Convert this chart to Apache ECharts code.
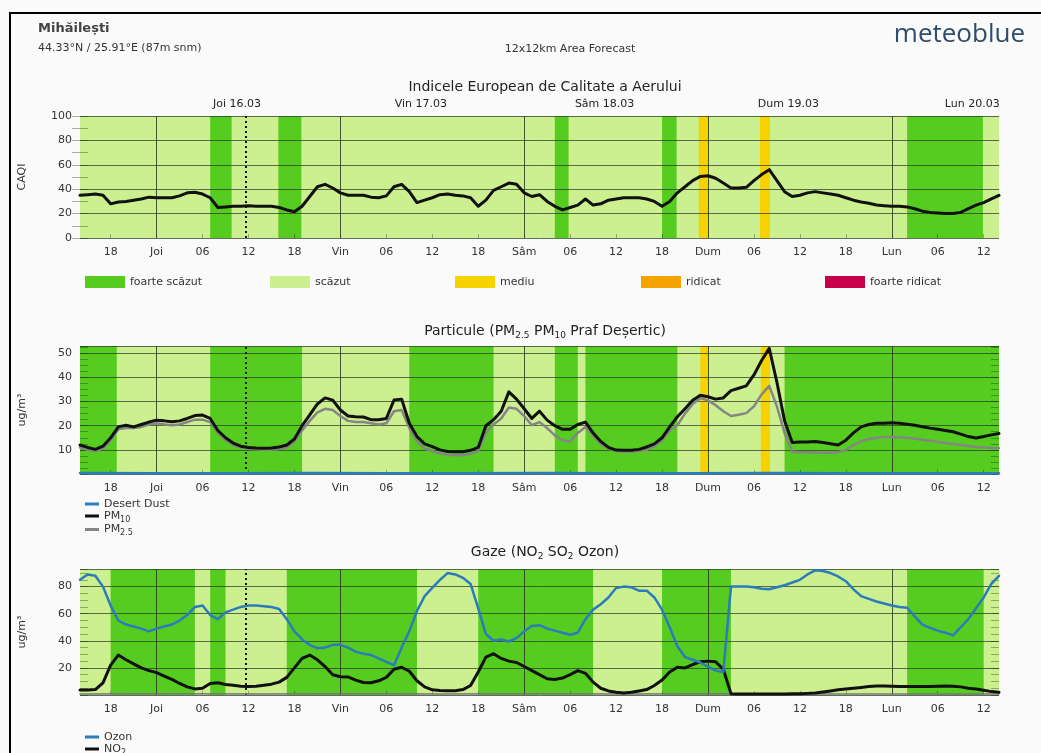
<!DOCTYPE html>
<html><head><meta charset="utf-8">
<script src="https://cdn.jsdelivr.net/npm/echarts@6/dist/echarts.min.js"></script>
<style>
html,body{margin:0;padding:0;background:#fafafa;width:1041px;height:753px;overflow:hidden;}
#frame{position:absolute;left:9px;top:12px;right:0;bottom:0;border-left:2px solid #000;border-top:2px solid #000;}
#chart{position:absolute;left:0;top:0;width:1041px;height:753px;}
</style></head><body>
<div id="frame"></div>
<div id="chart"></div>
<script>
// x = hours since Wed 15.03 14:00 (0..120)
const tickHours = [4,10,16,22,28,34,40,46,52,58,64,70,76,82,88,94,100,106,112,118];
const tickLabels = ['18','Joi','06','12','18','Vin','06','12','18','Sâm','06','12','18','Dum','06','12','18','Lun','06','12'];
const dayHours = [10,34,58,82,106];
const nowHour = 21.6;
const dateHours = [20.5,44.5,68.5,92.5,116.5];
const dateLabels = ['Joi 16.03','Vin 17.03','Sâm 18.03','Dum 19.03','Lun 20.03'];

// CAQI hourly
const caqi = [35,35.5,36,35,28,29.5,30,31,32,33.5,33,33,33,34.5,37,37.5,36,33,25,25.5,
26,26,26.5,26,26,26,25,23,21.5,26,34,42,44,41,37,35,35,35,33.5,33,
34.5,42,44,38,29,31,33,35.5,36,35,34.5,33,26,31,39,42,45,44,37,34,
35.5,30,26,23,25,27,32,27,28,31,32,33,33,33,32,30,26,30,37,42,
47,50.5,51,49,45,41,41,41.5,47,52,56,47,38,34,35,37,38,37,36,35,
33,31,29.5,28.5,27,26.5,26,26,25.5,24,22,21,20.5,20,20,21,24,27,29,32,35];

// PM hourly
const pm10 = [12,11,10.2,11.5,15,19.5,20.2,19.5,20.5,21.5,22.3,22,21.6,22,23,24.2,24.4,23,18,15,
12.8,11.5,11,10.8,10.7,10.8,11.2,12,14.5,20,24.5,29,31.5,30.6,26.5,24,23.7,23.6,22.5,22.5,
23,30.6,31,21,15.5,12.5,11.3,10,9.3,9.2,9.2,9.8,11,20,22.5,26,34,31,27,23,
26,22.3,20,18.5,18.5,20.5,21.5,17,13.5,11,9.9,9.8,9.8,10.2,11.2,12.5,15,19.5,23.7,27,
30.5,32.6,32,31,31.5,34.5,35.5,36.5,41,47,52,38,22,13,13.2,13.3,13.5,13,12.5,12,
14,17,19.5,20.5,21,21,21.2,21,20.6,20.2,19.6,19,18.5,18,17.5,16.5,15.5,14.9,15.5,16.2,16.8];
const pm25 = [11,10,9.5,10.5,14,18.5,19,19,19.5,20.5,21,20.5,20.2,20.5,21.5,22.5,22.5,21.5,17,14,
12,11,10.5,10.2,10,10,10.3,11,13.5,18,22,25.5,27,26.5,24,22,21.5,21.5,21,20.5,
21,26,26.5,19,13.5,10.5,9.5,8.5,8,7.8,7.8,8.3,9.5,17,20.5,23,27.5,27,24,20.2,
21.5,19,16,14,13.5,17,19.5,16,12.5,10.5,9.5,9.2,9.2,9.5,10,11.5,14,18,20.2,25,
29,31.4,30.5,28.5,26,24,24.5,25.2,28,33,36.5,28,17,9.2,9,9,8.9,8.8,8.8,9,
10,12,13.5,14.5,15,15.3,15.3,15.2,15,14.6,14.2,13.8,13.3,12.8,12.4,12,11.6,11.2,11,10.8,10.7];
const dust = [[0,0.4],[10,0.3],[20,0.3],[30,0.4],[40,0.3],[50,0.3],[60,0.4],[70,0.3],[80,0.3],[90,0.4],[100,0.3],[110,0.3],[120,0.3]];

// Gas hourly
const ozone = [85,89,88,80,66,55,52,50.5,49,47,49,50.5,52,55,59,65,66,59,56,61,
63,65,66,66,65.5,65,63.5,56,47,41,37,34.5,35,37,37,35,32,30.5,29.5,27,
24.5,22,35,47,62,73,79,85,90,89,86.5,82,64,45,40,41,39.5,42,47,51,
51.5,49,47.5,46,44.5,46,56,63,67,72,79,80,79.5,77,77,72,63,50,36,28,
26,24,21,18,17,80,80,80,79.5,78.5,78,79.5,81,83,85,89,92,91.5,90,87.5,
84,78,73,71,69,67.5,66,65,64.4,58,52,49.5,47.5,46,44,50,56,64,72,82,88];
const no2 = [3.7,3.7,4,9,22,29.5,26,23,20,18,16.5,14,11.5,8.5,6,4.5,5,8.5,9,7.8,
7.2,6.5,6.3,6.5,7.2,8,9.5,13,20,27,29.5,26,21,15,13.5,13.3,11,9.2,9,10.5,
13,19,20.5,17.5,10.5,6,3.8,3.3,3.2,3.2,4,7,17,28,30.5,27,25,24,21,18,
15,12,11.5,12.5,15,18,16,9.5,5,3,2,1.5,2,3,4,7,11,17,20.5,20,
22.5,24.5,25,24.5,19,1,0.8,0.8,0.7,0.7,0.7,0.8,0.8,0.9,1,1.2,1.5,2.2,3,3.8,
4.4,5,5.6,6.2,6.6,6.7,6.5,6.3,6.2,6.2,6.2,6.3,6.5,6.7,6.5,6,5,4.4,3.5,2.5,2];
const so2 = [[0,0.8],[12,0.9],[24,0.8],[36,1],[48,0.8],[60,0.9],[72,0.8],[84,0.9],[96,0.7],[108,0.8],[120,0.8]];

// colour bands [start, end, class]
const caqiBands = [[17,19.8,'d'],[25.9,28.9,'d'],[62,63.8,'d'],[76,77.9,'d'],[80.8,82.1,'y'],[88.8,90.1,'y'],[108,117.9,'d']];
const pmBands = [[0,4.8,'d'],[17,29,'d'],[43,54,'d'],[62,65,'d'],[66,78,'d'],[81,82.1,'y'],[88.9,90.1,'y'],[92,120,'d']];
const gasBands = [[4,15,'d'],[17,19,'d'],[27,44,'d'],[52,67,'d'],[76,85,'d'],[108,118,'d']];

const classNames = ['foarte scăzut','scăzut','mediu','ridicat','foarte ridicat'];
const C = {d:'#55cc1f', l:'#ccf090', y:'#f6d200', o:'#f5a300', r:'#c8004c'};
const classColors = [C.d, C.l, C.y, C.o, C.r];
const legendLefts = [80,265,450,636,820];

const FONT = 'DejaVu Sans';
const toPairs = a => a.map((v,i)=>[i,v]);
const bandArea = bands => ({
  silent: true, label:{show:false},
  data: bands.map(b => [{xAxis:b[0], itemStyle:{color:C[b[2]], opacity:1}}, {xAxis:b[1]}])
});
const dayLines = () => ({
  silent: true, symbol:['none','none'], label:{show:false},
  data: dayHours.map(h => ({xAxis:h, lineStyle:{color:'#2a3a20', width:1, type:'solid', opacity:0.85}}))
    .concat([{xAxis: nowHour, lineStyle:{color:'#111', width:2, type:[2,3], opacity:1}}])
});

const grids = [
  {left:80, top:116, width:919, height:122},
  {left:80, top:346, width:919, height:128},
  {left:80, top:569, width:919, height:126}
].map(g => Object.assign({show:true, backgroundColor:C.l, borderWidth:0, outerBoundsMode:'none'}, g));

const xBase = i => ({
  type:'value', gridIndex:i, min:0, max:120, z:3,
  axisLine:{show:false},
  axisTick:{show:true, inside:true, length:4, customValues:tickHours, lineStyle:{color:'rgba(0,0,0,0.3)'}},
  axisLabel:{customValues:tickHours, margin:9, fontSize:11, color:'#333', fontFamily:FONT,
    formatter: v => { const k = tickHours.indexOf(Math.round(v)); return k>=0 ? tickLabels[k] : ''; }},
  splitLine:{show:false}
});
const xAxes = [xBase(0), xBase(1), xBase(2), {
  type:'value', gridIndex:0, min:0, max:120, position:'top',
  axisLine:{show:false}, axisTick:{show:false}, splitLine:{show:false},
  axisLabel:{customValues:dateHours, margin:6, fontSize:11, color:'#222', fontFamily:FONT,
    formatter: v => { const k = dateHours.indexOf(v); return k>=0 ? dateLabels[k] : ''; }}
}];

const yBase = (i, max, interval, minorSplit, name, right) => ({
  type:'value', gridIndex:i, min:0, max:max, interval:interval, z:3,
  position: right ? 'right' : 'left',
  name: right ? '' : name, nameLocation:'middle', nameGap:52, nameRotate:90,
  nameTextStyle:{fontSize:11, color:'#333', fontFamily:FONT},
  axisLine:{show:false},
  axisTick:{show:true, inside:true, length:8, lineStyle:{color:'rgba(0,50,0,0.35)'}},
  minorTick:{show:true, splitNumber:minorSplit, length:8, lineStyle:{color:'rgba(0,50,0,0.35)'}},
  axisLabel:{show:!right, margin:8, fontSize:11, color:'#333', fontFamily:FONT,
    formatter: v => (v>0 && v % interval === 0) || (i===0 && v===0) ? String(v) : ''},
  splitLine:{show:!right, lineStyle:{color:'#2f3f28', width:1, opacity:0.75}}
});
const yAxes = [
  yBase(0,100,20,2,'CAQI',false), yBase(1,53,10,4,'ug/m³',false), yBase(2,93,20,4,'ug/m³',false),
  yBase(0,100,20,2,'',true), yBase(1,53,10,4,'',true), yBase(2,93,20,4,'',true)
];

const bandSeries = (xi, yi, data, bands) => ({
  type:'line', xAxisIndex:xi, yAxisIndex:yi, data:data, symbol:'none', silent:true,
  lineStyle:{opacity:0}, z:1, legendHoverLink:false,
  markArea: bandArea(bands), markLine: dayLines(), tooltip:{show:false}
});
const lineS = (name, xi, yi, data, color, width, z) => ({
  name, type:'line', xAxisIndex:xi, yAxisIndex:yi, data, symbol:'none', color,
  lineStyle:{color, width, join:'round', cap:'round'}, z: z, silent:true
});

const series = [
  bandSeries(0,0,toPairs(caqi),caqiBands),
  bandSeries(1,1,toPairs(pm10),pmBands),
  bandSeries(2,2,toPairs(ozone),gasBands),
  lineS('CAQI',0,0,toPairs(caqi),'#111',3,6),
  lineS('PM2.5',1,1,toPairs(pm25),'#858585',2.5,5),
  lineS('PM10',1,1,toPairs(pm10),'#111',3,6),
  lineS('Desert Dust',1,1,dust,'#2a7dbf',2.5,7),
  lineS('SO2',2,2,so2,'#777',1.5,5),
  lineS('NO2',2,2,toPairs(no2),'#111',3,6),
  lineS('Ozon',2,2,toPairs(ozone),'#2b7bbd',2.5,7)
].concat(classNames.map((n,k) => ({name:n, type:'line', data:[], color:classColors[k], xAxisIndex:0, yAxisIndex:0})));

const subRich = {s:{fontSize:8, fontFamily:FONT, color:'#333', padding:[7,0,0,0]}};
const legends = classNames.map((n,k) => ({
  data:[n], left:legendLefts[k], top:271, icon:'rect', itemWidth:40, itemHeight:12, itemGap:5,
  selectedMode:false, textStyle:{fontSize:11, color:'#333', fontFamily:FONT}
})).concat([
  {data:['Desert Dust','PM10','PM2.5'], orient:'vertical', left:80, top:493, height:100, icon:'rect', itemWidth:14, itemHeight:3, itemGap:0,
   selectedMode:false, textStyle:{fontSize:11, color:'#333', fontFamily:FONT, lineHeight:12, rich:subRich},
   formatter: n => n==='PM10' ? 'PM{s|10}' : n==='PM2.5' ? 'PM{s|2.5}' : n},
  {data:['Ozon','NO2','SO2'], orient:'vertical', left:80, top:726, height:100, icon:'rect', itemWidth:14, itemHeight:3, itemGap:0,
   selectedMode:false, textStyle:{fontSize:11, color:'#333', fontFamily:FONT, lineHeight:12, rich:subRich},
   formatter: n => n==='NO2' ? 'NO{s|2}' : n==='SO2' ? 'SO{s|2}' : n}
]);

const titleRich = {s:{fontSize:9, fontFamily:FONT, color:'#222', padding:[9,0,0,0]}};
const titles = [
  {text:'Mihăilești', left:33, top:17, textStyle:{fontSize:13, fontWeight:'bold', color:'#444', fontFamily:FONT}},
  {text:'44.33°N / 25.91°E (87m snm)', left:33, top:38, textStyle:{fontSize:11, fontWeight:'normal', color:'#333', fontFamily:FONT}},
  {text:'12x12km Area Forecast', left:565, textAlign:'center', top:39, textStyle:{fontSize:11, fontWeight:'normal', color:'#333', fontFamily:FONT}},
  {text:'meteoblue', right:11, top:17, textStyle:{fontSize:26, fontWeight:'normal', color:'#2f4d6b', fontFamily:'Open Sans'}},
  {text:'Indicele European de Calitate a Aerului', left:540, textAlign:'center', top:75, textStyle:{fontSize:14, fontWeight:'normal', color:'#222', fontFamily:FONT}},
  {text:'Particule (PM{s|2.5} PM{s|10} Praf Deșertic)', left:540, textAlign:'center', top:317, textStyle:{fontSize:14, fontWeight:'normal', color:'#222', fontFamily:FONT, rich:titleRich}},
  {text:'Gaze (NO{s|2} SO{s|2} Ozon)', left:540, textAlign:'center', top:538, textStyle:{fontSize:14, fontWeight:'normal', color:'#222', fontFamily:FONT, rich:titleRich}}
];

const chart = echarts.init(document.getElementById('chart'), null, {renderer:'canvas'});
chart.setOption({
  animation:false, backgroundColor:'transparent',
  textStyle:{fontFamily:FONT},
  title:titles, grid:grids, xAxis:xAxes, yAxis:yAxes, legend:legends, series:series
});
</script>
</body></html>
